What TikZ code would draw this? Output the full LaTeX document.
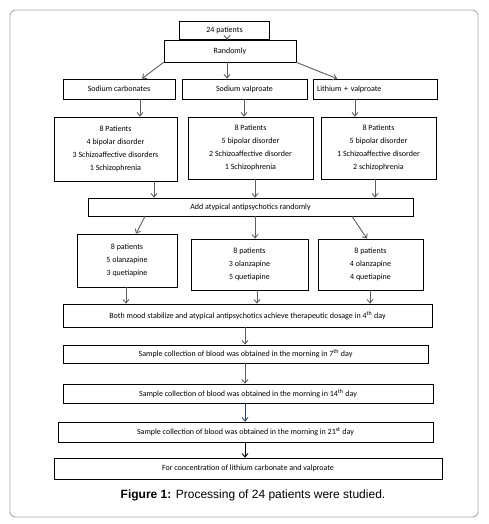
\documentclass[tikz,border=0pt]{standalone}
\usepackage{fontspec}
\setmainfont{Carlito}
\newfontfamily\capfont{Liberation Sans}
\usetikzlibrary{arrows.meta}
\definecolor{framegray}{HTML}{A8A8A8}
\definecolor{arrgray}{HTML}{5E5E5E}
\definecolor{arrblue}{HTML}{2E4460}
\tikzset{
  box/.style={draw=black, line width=0.7pt, inner sep=0pt, align=center,
    font=\fontsize{8}{12.8}\selectfont},
  arr/.style={draw=arrgray, line width=0.9pt, -{Straight Barb[length=3.5pt,width=6pt]}},
}
\begin{document}
\begin{tikzpicture}[x=1pt,y=-1pt]
\useasboundingbox (0,0) rectangle (488,524);
\draw[framegray, line width=0.9pt, rounded corners=5pt] (10,10) rectangle (478,517);
% row 1
\node[box, minimum width=90pt, minimum height=18pt] (p24) at (224.5,30) {24 patients};
\node[box, minimum width=132pt, minimum height=22pt] (rand) at (230,51) {Randomly};
% row 2
\node[box, minimum width=112pt, minimum height=20pt] (sc) at (119,89) {Sodium carbonates};
\node[box, minimum width=125pt, minimum height=20pt] (sv) at (244.5,89) {Sodium valproate};
\node[box, minimum width=124pt, minimum height=20pt, text width=116pt, align=left] (lv) at (375,89) {Lithium + valproate};
% row 3
\node[box, minimum width=123pt, minimum height=64pt] (l3) at (115.5,149) {8 Patients\\4 bipolar disorder\\3 Schizoaffective disorders\\1 Schizophrenia};
\node[box, minimum width=125pt, minimum height=62pt] (m3) at (250.5,148) {8 Patients\\5 bipolar disorder\\2 Schizoaffective disorder\\1 Schizophrenia};
\node[box, minimum width=115pt, minimum height=62pt] (r3) at (378.5,148) {8 Patients\\5 bipolar disorder\\1 Schizoaffective disorder\\2 schizophrenia};
% add
\node[box, minimum width=325pt, minimum height=18pt] (add) at (250.5,207) {Add atypical antipsychotics randomly};
% row 4
\node[box, minimum width=100pt, minimum height=53pt] (l4) at (127,260.5) {8 patients\\5 olanzapine\\3 quetiapine};
\node[box, minimum width=117pt, minimum height=51pt] (m4) at (249.5,264.5) {8 patients\\3 olanzapine\\5 quetiapine};
\node[box, minimum width=105pt, minimum height=51pt] (r4) at (370.5,264.5) {8 patients\\4 olanzapine\\4 quetiapine};
% chain
\node[box, minimum width=369pt, minimum height=23pt] (both) at (247.5,315.5) {Both mood stabilize and atypical antipsychotics achieve therapeutic dosage in 4\textsuperscript{th} day};
\node[box, minimum width=365pt, minimum height=18pt] (s7) at (245.5,354) {Sample collection of blood was obtained in the morning in 7\textsuperscript{th} day};
\node[box, minimum width=370pt, minimum height=19pt] (s14) at (248,393.5) {Sample collection of blood was obtained in the morning in 14\textsuperscript{th} day};
\node[box, minimum width=375pt, minimum height=20pt] (s21) at (245.5,432) {Sample collection of blood was obtained in the morning in 21\textsuperscript{st} day};
\node[box, minimum width=388pt, minimum height=21pt] (fin) at (248,468.5) {For concentration of lithium carbonate and valproate};
\node[font=\capfont\fontsize{12}{14}\selectfont, inner sep=0pt] (cap) at (253,495) {\textbf{Figure 1:} Processing of 24 patients were studied.};
% x positions for arrows
\coordinate (xa) at (227,0);
\coordinate (xb) at (140,0);
\coordinate (xc) at (244,0);
\coordinate (xd) at (355,0);
\coordinate (xe) at (154,0);
\coordinate (xf) at (255,0);
\coordinate (xg) at (375,0);
\coordinate (xh) at (126,0);
\coordinate (xi) at (257,0);
\coordinate (xj) at (370,0);
\coordinate (xk) at (245,0);
\coordinate (xl) at (142,0);
\coordinate (xm) at (337,0);
\coordinate (xn) at (145,0);
\coordinate (xo) at (136,0);
\coordinate (xp) at (352,0);
\coordinate (xq) at (367,0);
% arrows
\draw[arr] (p24.south -| xa) -- (rand.north -| xa);
\draw[arr] (rand.south west) -- (sc.north -| xl);
\draw[arr] (rand.south -| xa) -- (sv.north -| xa);
\draw[arr] (rand.south east) -- (lv.north -| xm);
\draw[arr] (sc.south -| xb) -- (l3.north -| xb);
\draw[arr] (sv.south -| xc) -- (m3.north -| xc);
\draw[arr] (lv.south -| xd) -- (r3.north -| xd);
\draw[arr] (l3.south -| xe) -- (add.north -| xe);
\draw[arr] (m3.south -| xf) -- (add.north -| xf);
\draw[arr] (r3.south -| xg) -- (add.north -| xg);
\draw[arr] (add.south -| xn) -- (l4.north -| xo);
\draw[arr] (add.south -| xf) -- (m4.north -| xf);
\draw[arr] (add.south -| xp) -- (r4.north -| xq);
\draw[arr] (l4.south -| xh) -- (both.north -| xh);
\draw[arr] (m4.south -| xi) -- (both.north -| xi);
\draw[arr] (r4.south -| xj) -- (both.north -| xj);
\draw[arr] (both.south -| xk) -- (s7.north -| xk);
\draw[arr] (s7.south -| xk) -- (s14.north -| xk);
\draw[arr, draw=arrblue] (s14.south -| xk) -- (s21.north -| xk);
\draw[arr, draw=black] (s21.south -| xk) -- (fin.north -| xk);
\end{tikzpicture}
\end{document}
